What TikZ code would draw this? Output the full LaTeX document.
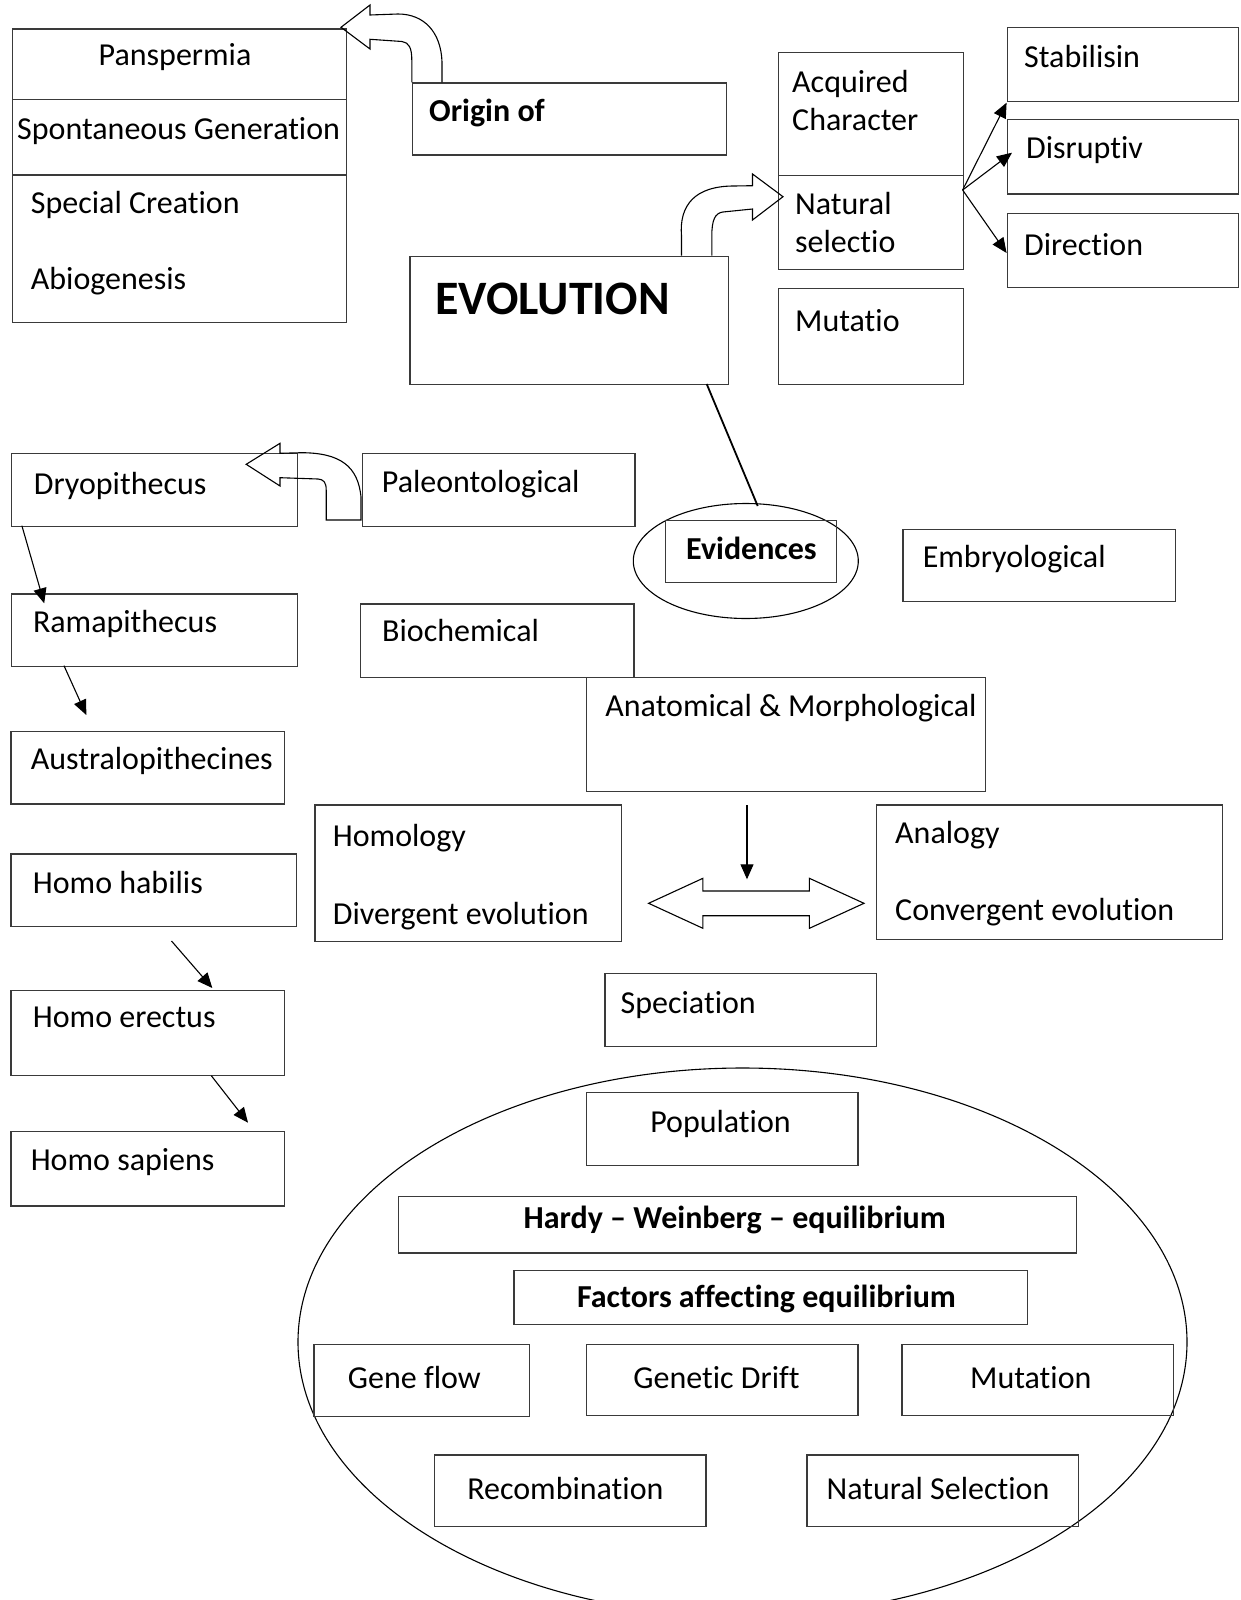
\documentclass[tikz,border=0pt]{standalone}
\usepackage{fontspec}
\setmainfont{Carlito}[Ligatures=NoCommon]
\usetikzlibrary{arrows.meta,shapes.geometric}
\newcommand\myfs{\fontsize{32}{36}\selectfont}
\definecolor{linec}{HTML}{3A3A3A}
\begin{document}
\begin{tikzpicture}[x=1pt,y=-1pt,
  box/.style={draw=linec, line width=1.3pt, inner sep=0pt, anchor=north west},
  txt/.style={font=\myfs, inner sep=0pt, anchor=base west, text=black, yshift=-2pt},
  ctxt/.style={font=\myfs, inner sep=0pt, anchor=base, text=black, yshift=-2pt},
  btxt/.style={font=\myfs\bfseries, inner sep=0pt, anchor=base, text=black, yshift=-2pt},
  conn/.style={draw=black, line width=1.1pt, -{Triangle[length=15pt,width=13pt]}},
  blockarrow/.style={draw=black, line width=1.1pt, line join=miter},
  oval/.style={draw=black, line width=1.1pt, ellipse, inner sep=0pt}
]
\useasboundingbox (0,0) rectangle (1240,1600);

% ---------- boxes ----------
\node[box, minimum width=334pt, minimum height=70.7pt] (pan) at (11.8,28.3) {};
\node[box, minimum width=334pt, minimum height=75.3pt] (spon) at (11.8,99) {};
\node[box, minimum width=334pt, minimum height=147.7pt] (spec) at (11.8,174.3) {};
\node[box, minimum width=313.7pt, minimum height=72pt] (origin) at (411.8,82.3) {};
\node[box, minimum width=318.4pt, minimum height=128.3pt] (evo) at (409.3,255.7) {};
\node[box, minimum width=184.6pt, minimum height=123.3pt] (acq) at (778,51.7) {};
\node[box, minimum width=184.6pt, minimum height=93.7pt] (nat) at (778,175) {};
\node[box, minimum width=184.6pt, minimum height=96.3pt] (mut) at (778,287.7) {};
\node[box, minimum width=231.4pt, minimum height=74.3pt] (stab) at (1006.6,26.7) {};
\node[box, minimum width=231.4pt, minimum height=74.3pt] (disr) at (1006.6,119) {};
\node[box, minimum width=231.4pt, minimum height=74.3pt] (dirn) at (1006.6,212.7) {};
\node[box, minimum width=286.2pt, minimum height=73pt] (dryo) at (10.5,452.7) {};
\node[box, minimum width=272.3pt, minimum height=73pt] (paleo) at (362,452.7) {};
\node[oval, minimum width=225pt, minimum height=115pt] (evell) at (745.8,561) {};
\node[box, minimum width=171pt, minimum height=61.7pt] (evbox) at (665,520) {};
\node[box, minimum width=272.5pt, minimum height=72.4pt] (embryo) at (902.2,528.7) {};
\node[box, minimum width=286.2pt, minimum height=72.4pt] (rama) at (10.5,593.3) {};
\node[box, minimum width=273.5pt, minimum height=73.7pt] (bioc) at (359.9,603.3) {};
\node[box, minimum width=399.1pt, minimum height=114.3pt] (anat) at (585.8,676.7) {};
\node[box, minimum width=273.5pt, minimum height=72.5pt] (austr) at (10.2,730.7) {};
\node[box, minimum width=285.8pt, minimum height=72.5pt] (habil) at (10.2,853.2) {};
\node[box, minimum width=273.5pt, minimum height=84.7pt] (erect) at (10.2,990) {};
\node[box, minimum width=273.5pt, minimum height=74.5pt] (sapi) at (10.2,1130.8) {};
\node[box, minimum width=306.5pt, minimum height=136.8pt] (homol) at (314.3,804.2) {};
\node[box, minimum width=345.9pt, minimum height=134.7pt] (analog) at (875.9,804.3) {};
\node[box, minimum width=271.5pt, minimum height=73.5pt] (speci) at (604.2,972.6) {};
\node[oval, minimum width=889pt, minimum height=548pt] (popell) at (742.5,1342) {};
\node[box, minimum width=271.5pt, minimum height=72.5pt] (popu) at (585.8,1092) {};
\node[box, minimum width=677.7pt, minimum height=56.2pt] (hardy) at (398,1196.1) {};
\node[box, minimum width=513.3pt, minimum height=54.1pt] (factors) at (513.4,1269.6) {};
\node[box, minimum width=215.4pt, minimum height=71.5pt] (geneflow) at (313.3,1344.1) {};
\node[box, minimum width=271.5pt, minimum height=70.6pt] (drift) at (585.8,1344) {};
\node[box, minimum width=271.5pt, minimum height=70.6pt] (mutn) at (901.2,1344) {};
\node[box, minimum width=271.4pt, minimum height=71.4pt] (recomb) at (433.8,1454.4) {};
\node[box, minimum width=271.5pt, minimum height=71.4pt] (natsel) at (806.3,1454.4) {};

% ---------- texts ----------
\node[ctxt] (tpan) at (175,63.3) {Panspermia};
\node[txt] (tspon) at (17,137.3) {Spontaneous Generation};
\node[txt] (tspec) at (30.7,211.7) {Special Creation};
\node[txt] (tabio) at (30.7,287.3) {Abiogenesis};
\node[txt, font=\myfs\bfseries] (torig) at (429,120) {Origin of};
\node[txt, font=\fontsize{48}{52}\selectfont\bfseries] (tevo) at (435,312.7) {EVOLUTION};
\node[txt] (tacq1) at (792,90.7) {Acquired};
\node[txt] (tacq2) at (792,129) {Character};
\node[txt] (tnat1) at (795,212.7) {Natural};
\node[txt] (tnat2) at (795,250.7) {selectio};
\node[txt] (tmut) at (795,329.3) {Mutatio};
\node[txt] (tstab) at (1024,66) {Stabilisin};
\node[txt] (tdisr) at (1026,156.7) {Disruptiv};
\node[txt] (tdirn) at (1024,253.3) {Direction};
\node[txt, font=\myfs\bfseries] (tevid) at (686,557.3) {Evidences};
\node[txt] (tpaleo) at (381.7,490.7) {Paleontological};
\node[txt] (tdryo) at (33.7,492.3) {Dryopithecus};
\node[txt] (trama) at (32.8,630) {Ramapithecus};
\node[txt] (tbioc) at (382,639.3) {Biochemical};
\node[txt] (tembr) at (922.6,565.4) {Embryological};
\node[txt] (tanat) at (605.2,714.4) {Anatomical \& Morphological};
\node[txt] (taust) at (30.6,767.5) {Australopithecines};
\node[txt] (thab) at (32.7,891) {Homo habilis};
\node[txt] (terec) at (32.7,1025.7) {Homo erectus};
\node[txt] (tsap) at (30.6,1168.6) {Homo sapiens};
\node[txt] (thom1) at (332.7,844) {Homology};
\node[txt] (thom2) at (332.7,922.6) {Divergent evolution};
\node[txt] (tana1) at (895,841.7) {Analogy};
\node[txt] (tana2) at (895,918.3) {Convergent evolution};
\node[txt] (tspeci) at (620.5,1011.4) {Speciation};
\node[ctxt] (tpop) at (720.5,1130.8) {Population};
\node[btxt] (thardy) at (734.8,1226.8) {Hardy – Weinberg – equilibrium};
\node[btxt] (tfact) at (766.5,1305.3) {Factors affecting equilibrium};
\node[ctxt] (tgf) at (414.4,1386) {Gene flow};
\node[ctxt] (tgd) at (716.5,1386) {Genetic Drift};
\node[ctxt] (tmu) at (1030.8,1386) {Mutation};
\node[ctxt] (trec) at (565.4,1497.2) {Recombination};
\node[ctxt] (tns) at (938,1497.2) {Natural Selection};

% ---------- connector end points ----------
\coordinate (natR) at (962.6,190);
\coordinate (stabT) at (1006.6,102.7);
\coordinate (disrT) at (1012,152.7);
\coordinate (dirnT) at (1006.6,253);
\coordinate (dryoB) at (21.9,525.7);
\coordinate (ramaT) at (44.2,603.3);
\coordinate (ramaB) at (64,665.7);
\coordinate (ramaE) at (86.3,715);
\coordinate (habS) at (171.5,941);
\coordinate (habE) at (212.3,988);
\coordinate (erecB) at (211.3,1075.7);
\coordinate (erecE) at (248,1122.7);
\coordinate (anatS) at (747,805);
\coordinate (anatE) at (747,879.3);
\coordinate (evoB) at (706.7,384);
\coordinate (evellT) at (757.7,506);

% ---------- connectors ----------
\draw[conn] (natR) -- (stabT);
\draw[conn] (natR) -- (disrT);
\draw[conn] (natR) -- (dirnT);
\draw[conn] (dryoB) -- (ramaT);
\draw[conn] (ramaB) -- (ramaE);
\draw[conn] (habS) -- (habE);
\draw[conn] (erecB) -- (erecE);
\draw[conn] (anatS) -- (anatE);
\draw[line width=1.8pt] (evoB) -- (evellT);

% ---------- hollow block arrows ----------
% Origin of -> Panspermia
\draw[blockarrow] (442,82.3) -- (442,62) .. controls (441,32) and (424,14) .. (398,14)
  -- (370,15) -- (370,5) -- (341,27.3) -- (370,49) -- (370,39.3)
  -- (402,41.5) .. controls (409,42.5) and (411.8,48) .. (411.8,60) -- (411.8,82.3);
% EVOLUTION -> Natural selectio
\draw[blockarrow] (681.5,255.7) -- (681.5,236) .. controls (679,205) and (695,186) .. (734,186)
  -- (752.5,185.7) -- (752.5,174) -- (783,196.7) -- (752.5,220) -- (752.5,209)
  -- (723,212) .. controls (715,213) and (711.8,220) .. (711.8,236) -- (711.8,255.7);
% Paleontological -> Dryopithecus
\draw[blockarrow] (361,520) -- (361,497) .. controls (358,466) and (340,453) .. (302,452.7)
  -- (280,453.3) -- (280,443.3) -- (246.2,464.3) -- (280,486) -- (280,477.7)
  -- (318,479) .. controls (323.5,479.5) and (326.2,482) .. (326.2,490) -- (326.2,520) -- cycle;
% double arrow
\draw[blockarrow] (648.6,903.3) -- (702.9,878.3) -- (702.9,891) -- (809.4,891) -- (809.4,878.3)
  -- (864,903.3) -- (809.4,928.3) -- (809.4,915.7) -- (702.9,915.7) -- (702.9,928.3) -- cycle;

\end{tikzpicture}
\end{document}
